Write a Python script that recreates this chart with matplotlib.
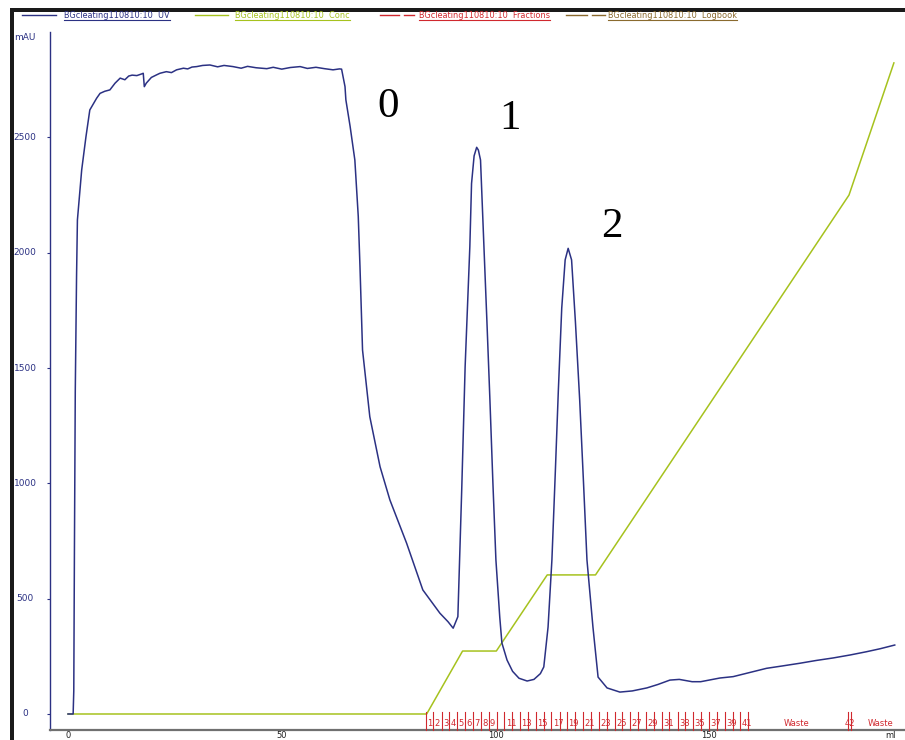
import matplotlib
matplotlib.use('Agg')
import matplotlib.pyplot as plt
import matplotlib.transforms as mtransforms
from matplotlib.patches import Rectangle
from matplotlib.lines import Line2D
import numpy as np

# ---------------- data ----------------
uv_ml = [0, 1.2, 1.35, 1.5, 1.7, 2.0, 2.2, 3.2, 4.2, 5.1, 6.7, 7.5, 8.6, 9.8, 11.0, 12.2, 13.3,
         14.2, 15.0, 16.1, 17.2, 17.6, 17.85, 18.3, 19.5, 20.7, 21.5, 23.0, 24.2, 25.4, 27.0,
         28.0, 29.0, 30.1, 31.5, 33.2, 35.0, 36.5, 38.6, 40.5, 42.0, 44.0, 46.5, 48.0, 50.0,
         52.0, 54.3, 56.0, 58.0, 60.0, 62.0, 63.5, 64.0, 64.8, 65.0, 66.0, 67.1, 67.9, 68.3,
         68.9, 70.6, 73.0, 75.3, 79.2, 83.0, 87.0, 88.9, 90.1, 91.2, 92.1, 92.9, 94.0, 94.4,
         95.0, 95.6, 96.0, 96.5, 97.3, 98.0, 98.7, 99.4, 100.1, 101.0, 101.5, 102.7, 104.0,
         105.5, 107.4, 109.0, 110.5, 111.3, 112.3, 113.2, 114.0, 114.7, 115.5, 116.3, 117.0,
         117.8, 118.7, 119.7, 120.6, 121.4, 122.8, 124.0, 126.1, 129.1, 132.0, 135.4, 138.0,
         140.8, 143.0, 146.0, 148.0, 152.5, 155.6, 159.5, 163.4, 167.0, 171.2, 175.0, 179.0,
         183.0, 186.8, 190.0, 193.4]
uv_mau = [0, 0, 100, 700, 1400, 1900, 2142, 2359, 2503, 2619, 2670, 2691, 2700, 2706, 2735, 2757, 2750,
          2766, 2770, 2768, 2775, 2778, 2720, 2735, 2760, 2771, 2778, 2785, 2781, 2793, 2800,
          2797, 2805, 2807, 2812, 2814, 2806, 2812, 2807, 2800, 2808, 2802, 2798, 2804, 2796,
          2803, 2807, 2799, 2804, 2798, 2793, 2797, 2796, 2720, 2663, 2547, 2402, 2157, 1940,
          1578, 1289, 1072, 928, 741, 538, 437, 400, 372, 422, 971, 1506, 2026, 2300,
          2420, 2457, 2445, 2402, 2026, 1700, 1361, 1000, 668, 420, 308, 234, 185,
          155, 143, 150, 175, 204, 377, 668, 1050, 1400, 1760, 1969, 2019,
          1969, 1700, 1361, 1000, 668, 377, 160, 113, 95, 100, 113, 128,
          147, 150, 140, 140, 156, 162, 180, 198, 208, 220, 232, 243,
          256, 270, 283, 299]

conc_ml = [0, 83.9, 92.3, 100.2, 112.1, 123.4, 182.7, 193.2]
conc_pct = [0, 0, 9.1, 9.1, 20.1, 20.1, 75.0, 94.1]
CONC_TO_MAU = 30.0   # display scaling of %B onto the mAU frame

frac_edges = [83.7, 85.5, 87.4, 89.2, 91.1, 92.9, 94.7, 96.6, 98.4, 100.3, 102.1, 103.9,
              105.8, 107.6, 109.5, 111.3, 113.1, 115.0, 116.8, 118.7, 120.5, 122.3, 124.2,
              126.0, 127.9, 129.7, 131.5, 133.4, 135.2, 137.1, 138.9, 140.7, 142.6, 144.4,
              146.3, 148.1, 149.9, 151.8, 153.6, 155.5, 157.3, 159.1]
frac_labels = ['1', '2', '3', '4', '5', '6', '7', '8', '9', '', '11', '', '13', '', '15', '',
               '17', '', '19', '', '21', '', '23', '', '25', '', '27', '', '29', '', '31', '',
               '33', '', '35', '', '37', '', '39', '', '41']
extra_ticks = [182.5, 183.2]
extra_labels = [(170.4, 'Waste'), (182.85, '42'), (190.0, 'Waste')]

yticks = [0, 500, 1000, 1500, 2000, 2500]
xticks = [0, 50, 100, 150]

peak_labels = [(74.9, 2632, '0'), (103.5, 2580, '1'), (127.3, 2113, '2')]

legend_items = [
    ('BGcleating110810:10  UV', '#2b3183', 'solid'),
    ('BGcleating110810:10  Conc', '#a6c21e', 'solid'),
    ('BGcleating110810:10  Fractions', '#d0282e', 'dashed'),
    ('BGcleating110810:10  Logbook', '#8a6a2e', 'dashed'),
]

# ---------------- styling ----------------
NAVY = '#2b3183'
GREEN = '#a6c21e'
RED = '#d0282e'

W, H = 905, 740
fig = plt.figure(figsize=(W / 100, H / 100), dpi=100)
fig.patch.set_facecolor('white')


def fx(px):
    return px / W


def fy(py):
    return 1 - py / H


X0, X1, Y0, Y1 = 49.5, 905, 730, 32
ax = fig.add_axes([fx(X0), fy(Y0), fx(X1) - fx(X0), fy(Y1) - fy(Y0)])
ax.set_xlim(-4.33, 195.8)
ax.set_ylim(-69.4, 2957)
ax.set_facecolor('white')

for s in ['top', 'right']:
    ax.spines[s].set_visible(False)
ax.spines['left'].set_color(NAVY)
ax.spines['left'].set_linewidth(1.0)
ax.spines['bottom'].set_color('#707070')
ax.spines['bottom'].set_linewidth(1.6)

ax.set_xticks([])
ax.set_yticks(yticks)
ax.set_yticklabels([])
ax.tick_params(axis='y', direction='out', length=2, width=0.8, color=NAVY)

# curves
ax.plot(conc_ml, np.array(conc_pct) * CONC_TO_MAU, color=GREEN, lw=1.1, zorder=2)
ax.plot(uv_ml, uv_mau, color=NAVY, lw=1.1, zorder=3)

# y tick labels
ytr = mtransforms.blended_transform_factory(fig.transFigure, ax.transData)
for v in yticks:
    ax.text(fx(25), v, str(v), transform=ytr, ha='center', va='center',
            fontsize=6.5, color=NAVY, family='DejaVu Sans')
fig.text(fx(25), fy(38), 'mAU', ha='center', va='center', fontsize=6.5, color=NAVY,
         family='DejaVu Sans')

# x tick labels (just under the axis line)
xtr = mtransforms.blended_transform_factory(ax.transData, fig.transFigure)
for v in xticks:
    ax.text(v, fy(739.5), str(v), transform=xtr, ha='center', va='bottom', fontsize=6.0,
            color='#222222', family='DejaVu Sans', clip_on=False)
fig.text(fx(890), fy(739.5), 'ml', ha='center', va='bottom', fontsize=6.0, color='#222222',
         family='DejaVu Sans')

# fraction marks
ftr = mtransforms.blended_transform_factory(ax.transData, ax.transAxes)
tick_h = 18 / (Y0 - Y1)
lab_y = (Y0 - 723.5) / (Y0 - Y1)
for e in frac_edges:
    ax.plot([e, e], [0, tick_h], transform=ftr, color=RED, lw=0.8, clip_on=False, zorder=4)
for e, lab in zip(frac_edges, frac_labels):
    if lab:
        ax.text(e + 0.3, lab_y, lab, transform=ftr, ha='left', va='center', fontsize=6.0,
                color=RED, family='DejaVu Sans', clip_on=False)
for e in extra_ticks:
    ax.plot([e, e], [0, tick_h], transform=ftr, color=RED, lw=0.8, clip_on=False, zorder=4)
for xpos, lab in extra_labels:
    ax.text(xpos, lab_y, lab, transform=ftr, ha='center', va='center', fontsize=6.0,
            color=RED, family='DejaVu Sans', clip_on=False)

# peak labels
for xpos, ypos, lab in peak_labels:
    ax.text(xpos, ypos, lab, ha='center', va='center', fontsize=31,
            family='Liberation Serif', color='black')

# legend at top
sample_x = [(22, 56), (195, 228), (380, 414), (566, 605)]
text_x = [64, 235, 419, 608]
LY = 15
for (label, col, style), (sx0, sx1), tx in zip(legend_items, sample_x, text_x):
    if style == 'solid':
        fig.add_artist(Line2D([fx(sx0), fx(sx1)], [fy(LY), fy(LY)], color=col, lw=1.0))
    else:
        mid = sx0 + (sx1 - sx0) * 0.55
        fig.add_artist(Line2D([fx(sx0), fx(mid)], [fy(LY), fy(LY)], color=col, lw=1.0))
        fig.add_artist(Line2D([fx(mid + 5), fx(sx1)], [fy(LY), fy(LY)], color=col, lw=1.0))
    t = fig.text(fx(tx), fy(LY), label, ha='left', va='center', fontsize=5.9, color=col,
                 family='DejaVu Sans')
    fig.canvas.draw()
    bb = t.get_window_extent()
    fig.add_artist(Line2D([bb.x0 / W, bb.x1 / W], [fy(LY + 5), fy(LY + 5)], color=col, lw=0.8))

# black frame edges (left and top)
fig.add_artist(Rectangle((fx(10), 0), fx(14) - fx(10), fy(8), transform=fig.transFigure,
                         color='#1a1a1a', lw=0))
fig.add_artist(Rectangle((fx(10), fy(11.5)), 1 - fx(10), fy(8) - fy(11.5),
                         transform=fig.transFigure, color='#1a1a1a', lw=0))

fig.savefig('out.png', dpi=100, facecolor='white')
